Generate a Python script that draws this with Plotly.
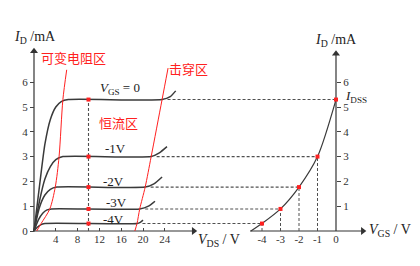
import plotly.graph_objects as go

# ---------------- data ----------------
vgs_levels = [0, -1, -2, -3, -4]
curve_labels = ["<i>V</i><sub>GS</sub> = 0", "-1V", "-2V", "-3V", "-4V"]
id_sat = [5.3, 3.0, 1.77, 0.89, 0.3]
breakdown_vds = [23.5, 21.5, 20.4, 19.4, 18.9]

out_vds = [
    [0, 1.0, 2.0, 3.0, 4.0, 5.0, 6.3, 23.5, 25.0, 26.0],
    [0, 1.0, 2.0, 3.0, 4.0, 5.3, 21.5, 23.0, 24.4],
    [0, 1.0, 2.0, 3.0, 4.2, 20.4, 22.0, 23.5],
    [0, 0.8, 1.6, 2.4, 3.2, 19.4, 21.0, 22.2],
    [0, 0.6, 1.2, 2.0, 18.9, 19.5, 20.0],
]
out_id = [
    [0, 1.8, 3.5, 4.5, 5.0, 5.22, 5.3, 5.3, 5.42, 5.65],
    [0, 1.2, 2.1, 2.6, 2.88, 3.0, 3.0, 3.15, 3.4],
    [0, 0.95, 1.45, 1.68, 1.77, 1.77, 1.9, 2.18],
    [0, 0.45, 0.72, 0.85, 0.89, 0.89, 1.0, 1.2],
    [0, 0.15, 0.25, 0.3, 0.3, 0.35, 0.44],
]
vds_probe = 10

# pinch-off locus (可变电阻区 boundary) and breakdown locus (击穿区 boundary)
pinch_vds = [0.5, 1.3, 2.9, 3.9, 4.6, 5.3, 6.0]
pinch_id = [0, 0.3, 0.89, 1.77, 3.0, 5.3, 6.5]
brk_vds = [18.5, 18.9, 19.4, 20.4, 21.5, 23.5, 24.6]
brk_id = [0, 0.3, 0.89, 1.77, 3.0, 5.3, 6.57]

# transfer characteristic
tr_vgs = [-4.6, -4, -3, -2, -1, 0]
tr_id = [0, 0.3, 0.89, 1.77, 3.0, 5.3]

left_xticks = [4, 8, 12, 16, 20, 24]
left_yticks = [0, 1, 2, 3, 4, 5, 6]
right_xticks = [-4, -3, -2, -1, 0]
right_yticks = [1, 2, 3, 4, 5, 6]

# ---------------- layout geometry ----------------
W, H = 420, 266
X1_RANGE = [-34 / 5.45, (W - 34) / 5.45]
X2_RANGE = [-336 / 18.5, (W - 336) / 18.5]
Y_RANGE = [-(H - 231) / 24.8, 231 / 24.8]
X1_END, Y1_END = 29.3, 7.25
X2_START, X2_END, Y2_END = -4.65, 1.45, 7.15


def x2_to_x1(v):
    f = (v - X2_RANGE[0]) / (X2_RANGE[1] - X2_RANGE[0])
    return X1_RANGE[0] + f * (X1_RANGE[1] - X1_RANGE[0])


def P(px, py):
    return px / W, 1 - py / H


CURVE = "#3a3a3a"
DASH = "#505050"
AX = "#333333"
RED = "#ff2020"
SERIF = "Liberation Serif, Times New Roman, serif"
CJK = "Noto Sans CJK SC"

fig = go.Figure()

# axes lines with arrowheads
for xa, ya, xs, ys in [("x", "y", [0, X1_END], [0, 0]), ("x", "y", [0, 0], [0, Y1_END]),
                       ("x2", "y2", [X2_START, X2_END], [0, 0]), ("x2", "y2", [0, 0], [0, Y2_END])]:
    fig.add_trace(go.Scatter(x=xs, y=ys, mode="lines", xaxis=xa, yaxis=ya,
                             line=dict(color=AX, width=1.2), hoverinfo="skip"))
fig.add_trace(go.Scatter(x=[X1_END], y=[0], mode="markers", xaxis="x", yaxis="y",
                         marker=dict(symbol="triangle-right", size=7, color=AX)))
fig.add_trace(go.Scatter(x=[0], y=[Y1_END], mode="markers", xaxis="x", yaxis="y",
                         marker=dict(symbol="triangle-up", size=7, color=AX)))
fig.add_trace(go.Scatter(x=[X2_END], y=[0], mode="markers", xaxis="x2", yaxis="y2",
                         marker=dict(symbol="triangle-right", size=7, color=AX)))
fig.add_trace(go.Scatter(x=[0], y=[Y2_END], mode="markers", xaxis="x2", yaxis="y2",
                         marker=dict(symbol="triangle-up", size=7, color=AX)))

# output characteristic curves
for vx, vy in zip(out_vds, out_id):
    fig.add_trace(go.Scatter(x=vx, y=vy, mode="lines", xaxis="x", yaxis="y",
                             line=dict(color=CURVE, width=1.5, shape="spline", smoothing=0.6),
                             hoverinfo="skip"))

# red boundary lines
fig.add_trace(go.Scatter(x=pinch_vds, y=pinch_id, mode="lines", xaxis="x", yaxis="y",
                         line=dict(color=RED, width=1.0, shape="spline", smoothing=0.8)))
fig.add_trace(go.Scatter(x=brk_vds, y=brk_id, mode="lines", xaxis="x", yaxis="y",
                         line=dict(color=RED, width=1.0, shape="spline", smoothing=0.8)))

# vertical dashed at VDS probe
fig.add_trace(go.Scatter(x=[vds_probe, vds_probe], y=[0, id_sat[0]], mode="lines",
                         xaxis="x", yaxis="y",
                         line=dict(color=DASH, width=1.1, dash="3px,2px")))

# horizontal dashed projections to the transfer curve
for vg, i_s, bd in zip(vgs_levels, id_sat, breakdown_vds):
    fig.add_trace(go.Scatter(x=[bd + 1.0, x2_to_x1(vg)], y=[i_s, i_s], mode="lines",
                             xaxis="x", yaxis="y",
                             line=dict(color=DASH, width=1.1, dash="3px,2px")))

# transfer curve
fig.add_trace(go.Scatter(x=tr_vgs, y=tr_id, mode="lines", xaxis="x2", yaxis="y2",
                         line=dict(color=CURVE, width=1.2, shape="spline", smoothing=0.8)))

# vertical dashed on transfer plot
for vg, i_s in zip(vgs_levels[1:], id_sat[1:]):
    fig.add_trace(go.Scatter(x=[vg, vg], y=[0, i_s], mode="lines", xaxis="x2", yaxis="y2",
                             line=dict(color=DASH, width=1.0, dash="3px,2px")))

# red dots
fig.add_trace(go.Scatter(x=[vds_probe] * len(id_sat), y=id_sat, mode="markers",
                         xaxis="x", yaxis="y",
                         marker=dict(symbol="square", size=4, color=RED)))
fig.add_trace(go.Scatter(x=vgs_levels, y=id_sat, mode="markers", xaxis="x2", yaxis="y2",
                         marker=dict(symbol="square", size=4, color=RED)))

tickfont = dict(family=SERIF, size=11, color="#333")
ypos = (H - 231) / H
fig.update_layout(
    width=W, height=H, margin=dict(l=0, r=0, t=0, b=0),
    paper_bgcolor="white", plot_bgcolor="white", showlegend=False,
    xaxis=dict(domain=[0, 1], range=X1_RANGE, anchor="free", position=ypos,
               showgrid=False, zeroline=False, showline=False,
               tickvals=left_xticks, ticks="inside", ticklen=3, tickcolor="#444",
               tickfont=tickfont),
    yaxis=dict(domain=[0, 1], range=Y_RANGE, anchor="free", position=34 / W,
               showgrid=False, zeroline=False, showline=False,
               tickvals=left_yticks, ticks="outside", ticklen=4, tickcolor="#444",
               tickfont=tickfont),
    xaxis2=dict(domain=[0, 1], range=X2_RANGE, overlaying="x", anchor="free", position=ypos,
                showgrid=False, zeroline=False, showline=False,
                tickvals=right_xticks, ticktext=[str(v) for v in right_xticks],
                ticks="", tickfont=tickfont),
    yaxis2=dict(domain=[0, 1], range=Y_RANGE, overlaying="y", anchor="free",
                position=336 / W, side="right",
                showgrid=False, zeroline=False, showline=False,
                tickvals=right_yticks, ticks="outside", ticklen=4, tickcolor="#444",
                tickfont=tickfont),
)

labels = [
    ("<i>I</i><sub>D</sub> /mA", 35, 37, 14, SERIF, "#222"),
    ("<i>I</i><sub>D</sub> /mA", 336, 40, 14, SERIF, "#222"),
    ("<i>V</i><sub>DS</sub> / V", 219, 240, 14, SERIF, "#222"),
    ("<i>V</i><sub>GS</sub> / V", 390, 230, 14, SERIF, "#222"),
    ("<i>I</i><sub>DSS</sub>", 356, 96, 13, SERIF, "#222"),
    ("可变电阻区", 73, 57, 13, CJK, RED),
    ("击穿区", 188, 68, 13, CJK, RED),
    ("恒流区", 118, 122, 13, CJK, RED),
]
curve_label_pos = [(120, 88), (115, 148), (114, 181), (116, 202), (113, 219)]
for t, (px, py) in zip(curve_labels, curve_label_pos):
    labels.append((t, px, py, 13, SERIF, "#222"))

for t, px, py, sz, fam, col in labels:
    x, y = P(px, py)
    fig.add_annotation(text=t, xref="paper", yref="paper", x=x, y=y,
                       showarrow=False, xanchor="center", yanchor="middle",
                       font=dict(family=fam, size=sz, color=col))

fig.write_html("out.html")
